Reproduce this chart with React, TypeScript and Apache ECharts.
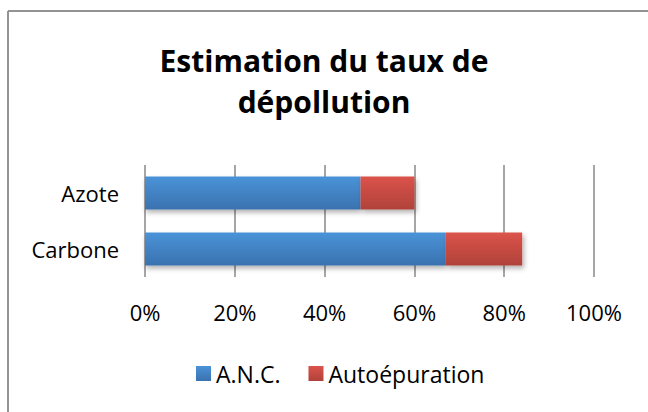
import React, { useEffect, useRef } from "react";
import * as echarts from "echarts";

const categories = ["Carbone", "Azote"];
const ancValues = [67, 48];
const autoValues = [17, 12];
const seriesNames = ["A.N.C.", "Autoépuration"];
const xTicks = [0, 20, 40, 60, 80, 100];
const titleText = "Estimation du taux de\ndépollution";

export default function App() {
  const ref = useRef<HTMLDivElement>(null);
  useEffect(() => {
    document.body.style.margin = "0";
    if (!ref.current) return;
    const chart = echarts.init(ref.current, null, { renderer: "svg" });
    const font = "'Open Sans', sans-serif";
    const blue = new echarts.graphic.LinearGradient(0, 0, 0, 1, [
      { offset: 0, color: "#4a93d8" },
      { offset: 1, color: "#3a72af" },
    ]);
    const red = new echarts.graphic.LinearGradient(0, 0, 0, 1, [
      { offset: 0, color: "#db534a" },
      { offset: 1, color: "#b0423a" },
    ]);
    chart.setOption({
      animation: false,
      backgroundColor: "#ffffff",
      title: {
        text: titleText,
        left: "center",
        top: 35,
        padding: [5, 0, 5, 12],
        textStyle: {
          fontFamily: font,
          fontSize: 30,
          fontWeight: "bold",
          color: "#000000",
          lineHeight: 41,
        },
      },
      graphic: [
        {
          type: "line",
          shape: { x1: 8, y1: 11, x2: 648, y2: 11 },
          style: { stroke: "#939393", lineWidth: 2 },
        },
        {
          type: "line",
          shape: { x1: 8, y1: 11, x2: 8, y2: 412 },
          style: { stroke: "#939393", lineWidth: 2 },
        },
      ],
      legend: {
        data: seriesNames,
        left: 191,
        top: 357,
        itemWidth: 15,
        itemHeight: 15,
        itemGap: 28,
        icon: "rect",
        textStyle: { fontFamily: font, fontSize: 23, color: "#000000" },
      },
      grid: { left: 145, right: 54, top: 165, bottom: 135, containLabel: false },
      xAxis: {
        type: "value",
        min: xTicks[0],
        max: xTicks[xTicks.length - 1],
        interval: 20,
        axisLine: { show: false },
        axisTick: { show: false },
        axisLabel: {
          formatter: "{value}%",
          fontFamily: font,
          fontSize: 22,
          color: "#000000",
          margin: 24,
        },
        splitLine: { show: true, lineStyle: { color: "#a6a6a6", width: 2 } },
      },
      yAxis: {
        type: "category",
        data: categories,
        axisLine: { show: false },
        axisTick: { show: false },
        axisLabel: { fontFamily: font, fontSize: 22, color: "#000000", margin: 26 },
      },
      series: [
        {
          name: seriesNames[0],
          type: "bar",
          stack: "total",
          barWidth: 33,
          data: ancValues,
          itemStyle: {
            color: blue,
            shadowBlur: 5,
            shadowColor: "rgba(0,0,0,0.3)",
            shadowOffsetX: 1,
            shadowOffsetY: 3,
          },
        },
        {
          name: seriesNames[1],
          type: "bar",
          stack: "total",
          barWidth: 33,
          data: autoValues,
          itemStyle: {
            color: red,
            shadowBlur: 5,
            shadowColor: "rgba(0,0,0,0.3)",
            shadowOffsetX: 2,
            shadowOffsetY: 3,
          },
        },
      ],
    });
    return () => chart.dispose();
  }, []);
  return <div ref={ref} style={{ width: 648, height: 412 }} />;
}
